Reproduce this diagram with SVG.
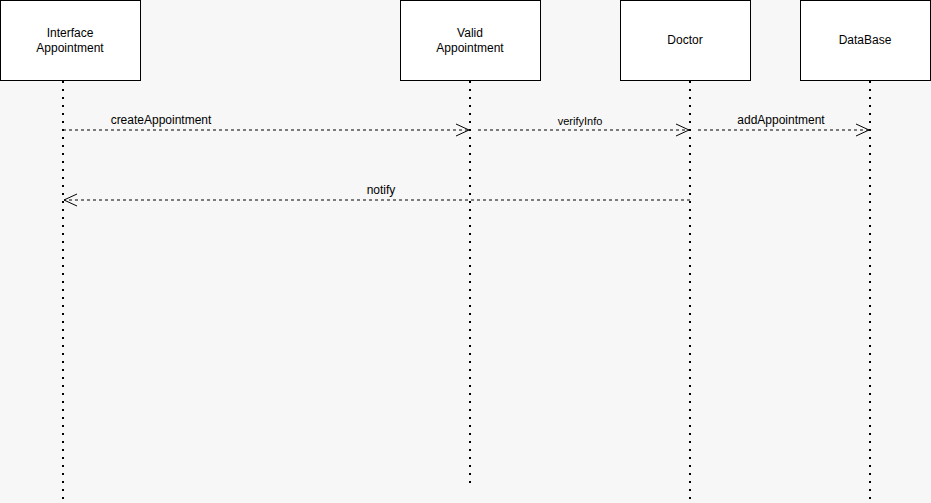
<svg xmlns="http://www.w3.org/2000/svg" width="931" height="503" viewBox="0 0 931 503">
<style>
.box{fill:#ffffff;stroke:#000000;stroke-width:1}
.t{font-family:"Liberation Sans",Arial,sans-serif;font-size:12px;fill:#000;text-anchor:middle}
.s{font-size:11px}
.life{stroke:#000;stroke-width:2;stroke-dasharray:2 6;fill:none}
.msg{stroke:#000;stroke-width:1;stroke-dasharray:3 3;fill:none}
.head{stroke:#000;stroke-width:1;fill:none}
</style>
<rect x="0" y="0" width="931" height="503" fill="#f7f7f7"/>
<g id="lifelines">
<line class="life" x1="63" y1="81" x2="63" y2="503"/>
<line class="life" x1="470" y1="81" x2="470" y2="483"/>
<line class="life" x1="690" y1="81" x2="690" y2="503"/>
<line class="life" x1="870" y1="81" x2="870" y2="503"/>
</g>
<g id="node-interface">
<rect class="box" x="0.5" y="0.5" width="140" height="80"/>
<text class="t" x="70" y="37">Interface</text>
<text class="t" x="70" y="52">Appointment</text>
</g>
<g id="node-valid">
<rect class="box" x="400.5" y="0.5" width="140" height="80"/>
<text class="t" x="470" y="37">Valid</text>
<text class="t" x="470" y="52">Appointment</text>
</g>
<g id="node-doctor">
<rect class="box" x="620.5" y="0.5" width="130" height="80"/>
<text class="t" x="685" y="44">Doctor</text>
</g>
<g id="node-database">
<rect class="box" x="800.5" y="0.5" width="130" height="80"/>
<text class="t" x="865" y="44">DataBase</text>
</g>
<g id="connectors">
<line class="msg" x1="63" y1="130" x2="469" y2="130"/>
<polyline class="head" points="456,124 469,130 456,136"/>
<text class="t" x="161" y="124">createAppointment</text>
<line class="msg" x1="478" y1="130" x2="689" y2="130"/>
<polyline class="head" points="676,124 689,130 676,136"/>
<text class="t s" x="580" y="125">verifyInfo</text>
<line class="msg" x1="698" y1="130" x2="869" y2="130"/>
<polyline class="head" points="856,124 869,130 856,136"/>
<text class="t" x="781" y="124">addAppointment</text>
<line class="msg" x1="690" y1="200" x2="64" y2="200"/>
<polyline class="head" points="77,194 64,200 77,206"/>
<text class="t" x="381" y="194">notify</text>
</g>
</svg>
